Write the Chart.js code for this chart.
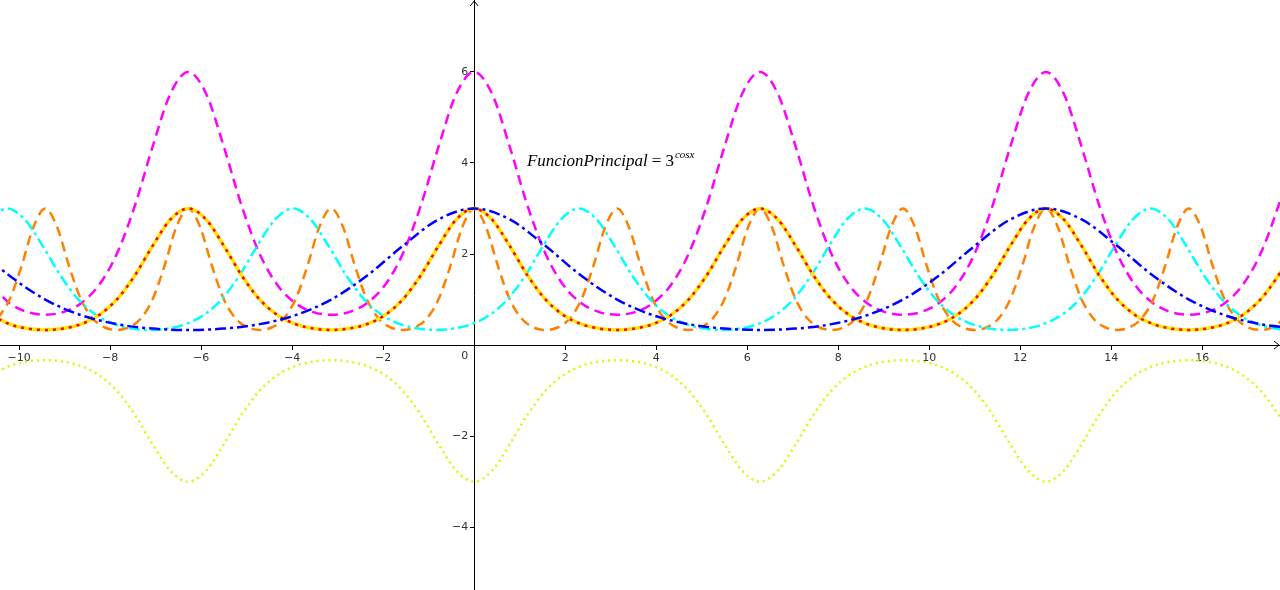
<!DOCTYPE html>
<html>
<head>
<meta charset="utf-8">
<script src="https://cdn.jsdelivr.net/npm/chart.js@4"></script>
<style>
html, body { margin: 0; padding: 0; background: #fff; overflow: hidden; }
</style>
</head>
<body>
<canvas id="chart" width="1280" height="590"></canvas>
<script>
// x samples for 3^cos x and its copies (step pi/8)
const xMain = [
  -10.603, -10.210, -9.817, -9.425, -9.032, -8.639, -8.247, -7.854, -7.461, -7.069, -6.676,
  -6.283, -5.890, -5.498, -5.105, -4.712, -4.320, -3.927, -3.534, -3.142, -2.749, -2.356, -1.963, -1.571, -1.178, -0.785, -0.393,
  0, 0.393, 0.785, 1.178, 1.571, 1.963, 2.356, 2.749, 3.142, 3.534, 3.927, 4.320, 4.712, 5.105, 5.498, 5.890,
  6.283, 6.676, 7.069, 7.461, 7.854, 8.247, 8.639, 9.032, 9.425, 9.817, 10.210, 10.603, 10.996, 11.388, 11.781, 12.174,
  12.566, 12.959, 13.352, 13.744, 14.137, 14.530, 14.923, 15.315, 15.708, 16.101, 16.493, 16.886, 17.279, 17.671, 18.064
];
// FuncionPrincipal = 3^cos x
const yMain = [
  0.657, 0.460, 0.362, 0.333, 0.362, 0.460, 0.657, 1, 1.523, 2.175, 2.759,
  3, 2.759, 2.175, 1.523, 1, 0.657, 0.460, 0.362, 0.333, 0.362, 0.460, 0.657, 1, 1.523, 2.175, 2.759,
  3, 2.759, 2.175, 1.523, 1, 0.657, 0.460, 0.362, 0.333, 0.362, 0.460, 0.657, 1, 1.523, 2.175, 2.759,
  3, 2.759, 2.175, 1.523, 1, 0.657, 0.460, 0.362, 0.333, 0.362, 0.460, 0.657, 1, 1.523, 2.175, 2.759,
  3, 2.759, 2.175, 1.523, 1, 0.657, 0.460, 0.362, 0.333, 0.362, 0.460, 0.657, 1, 1.523, 2.175
];
// magenta dashed (twice as tall)
const yDouble = [
  1.314, 0.920, 0.725, 0.667, 0.725, 0.920, 1.314, 2, 3.045, 4.349, 5.519,
  6, 5.519, 4.349, 3.045, 2, 1.314, 0.920, 0.725, 0.667, 0.725, 0.920, 1.314, 2, 3.045, 4.349, 5.519,
  6, 5.519, 4.349, 3.045, 2, 1.314, 0.920, 0.725, 0.667, 0.725, 0.920, 1.314, 2, 3.045, 4.349, 5.519,
  6, 5.519, 4.349, 3.045, 2, 1.314, 0.920, 0.725, 0.667, 0.725, 0.920, 1.314, 2, 3.045, 4.349, 5.519,
  6, 5.519, 4.349, 3.045, 2, 1.314, 0.920, 0.725, 0.667, 0.725, 0.920, 1.314, 2, 3.045, 4.349
];
// yellow-green dotted (mirrored below the axis)
const yNeg = [
  -0.657, -0.460, -0.362, -0.333, -0.362, -0.460, -0.657, -1, -1.523, -2.175, -2.759,
  -3, -2.759, -2.175, -1.523, -1, -0.657, -0.460, -0.362, -0.333, -0.362, -0.460, -0.657, -1, -1.523, -2.175, -2.759,
  -3, -2.759, -2.175, -1.523, -1, -0.657, -0.460, -0.362, -0.333, -0.362, -0.460, -0.657, -1, -1.523, -2.175, -2.759,
  -3, -2.759, -2.175, -1.523, -1, -0.657, -0.460, -0.362, -0.333, -0.362, -0.460, -0.657, -1, -1.523, -2.175, -2.759,
  -3, -2.759, -2.175, -1.523, -1, -0.657, -0.460, -0.362, -0.333, -0.362, -0.460, -0.657, -1, -1.523, -2.175
];

// blue dash-dot, wide period
const xHalf = [
  -10.996, -10.210, -9.425, -8.639, -7.854, -7.069, -6.283, -5.498, -4.712, -3.927, -3.142, -2.356, -1.571, -0.785,
  0, 0.785, 1.571, 2.356, 3.142, 3.927, 4.712, 5.498, 6.283, 7.069, 7.854, 8.639, 9.425, 10.210, 10.996, 11.781,
  12.566, 13.352, 14.137, 14.923, 15.708, 16.493, 17.279, 18.064
];
const yHalf = [
  2.175, 1.523, 1, 0.657, 0.460, 0.362, 0.333, 0.362, 0.460, 0.657, 1, 1.523, 2.175, 2.759,
  3, 2.759, 2.175, 1.523, 1, 0.657, 0.460, 0.362, 0.333, 0.362, 0.460, 0.657, 1, 1.523, 2.175, 2.759,
  3, 2.759, 2.175, 1.523, 1, 0.657, 0.460, 0.362
];

// cyan dash-dot, shifted right
const xShift = [
  -10.659,
  -10.266, -9.874, -9.481, -9.088, -8.696, -8.303, -7.910, -7.517, -7.125, -6.732, -6.339, -5.947, -5.554, -5.161, -4.769, -4.376,
  -3.983, -3.590, -3.198, -2.805, -2.412, -2.020, -1.627, -1.234, -0.842, -0.449, -0.056, 0.337, 0.729, 1.122, 1.515, 1.907,
  2.300, 2.693, 3.085, 3.478, 3.871, 4.263, 4.656, 5.049, 5.442, 5.834, 6.227, 6.620, 7.012, 7.405, 7.798, 8.190,
  8.583, 8.976, 9.369, 9.761, 10.154, 10.547, 10.939, 11.332, 11.725, 12.117, 12.510, 12.903, 13.296, 13.688, 14.081, 14.474,
  14.866, 15.259, 15.652, 16.044, 16.437, 16.830, 17.223, 17.615, 18.008
];
const yShift = [
  2.759,
  3, 2.759, 2.175, 1.523, 1, 0.657, 0.460, 0.362, 0.333, 0.362, 0.460, 0.657, 1, 1.523, 2.175, 2.759,
  3, 2.759, 2.175, 1.523, 1, 0.657, 0.460, 0.362, 0.333, 0.362, 0.460, 0.657, 1, 1.523, 2.175, 2.759,
  3, 2.759, 2.175, 1.523, 1, 0.657, 0.460, 0.362, 0.333, 0.362, 0.460, 0.657, 1, 1.523, 2.175, 2.759,
  3, 2.759, 2.175, 1.523, 1, 0.657, 0.460, 0.362, 0.333, 0.362, 0.460, 0.657, 1, 1.523, 2.175, 2.759,
  3, 2.759, 2.175, 1.523, 1, 0.657, 0.460, 0.362, 0.333
];

// orange dashed, short period (step pi/12)
const xFast = [
  -10.472, -10.210, -9.948, -9.687,
  -9.425, -9.163, -8.901, -8.639, -8.378, -8.116, -7.854, -7.592, -7.330, -7.069, -6.807, -6.545,
  -6.283, -6.021, -5.760, -5.498, -5.236, -4.974, -4.712, -4.451, -4.189, -3.927, -3.665, -3.403,
  -3.142, -2.880, -2.618, -2.356, -2.094, -1.833, -1.571, -1.309, -1.047, -0.785, -0.524, -0.262,
  0, 0.262, 0.524, 0.785, 1.047, 1.309, 1.571, 1.833, 2.094, 2.356, 2.618, 2.880,
  3.142, 3.403, 3.665, 3.927, 4.189, 4.451, 4.712, 4.974, 5.236, 5.498, 5.760, 6.021,
  6.283, 6.545, 6.807, 7.069, 7.330, 7.592, 7.854, 8.116, 8.378, 8.639, 8.901, 9.163,
  9.425, 9.687, 9.948, 10.210, 10.472, 10.734, 10.996, 11.257, 11.519, 11.781, 12.043, 12.305,
  12.566, 12.828, 13.090, 13.352, 13.614, 13.875, 14.137, 14.399, 14.661, 14.923, 15.184, 15.446,
  15.708, 15.970, 16.232, 16.493, 16.755, 17.017, 17.279, 17.541, 17.802
];
const yFast = [
  0.577, 1, 1.732, 2.589,
  3, 2.589, 1.732, 1, 0.577, 0.386, 0.333, 0.386, 0.577, 1, 1.732, 2.589,
  3, 2.589, 1.732, 1, 0.577, 0.386, 0.333, 0.386, 0.577, 1, 1.732, 2.589,
  3, 2.589, 1.732, 1, 0.577, 0.386, 0.333, 0.386, 0.577, 1, 1.732, 2.589,
  3, 2.589, 1.732, 1, 0.577, 0.386, 0.333, 0.386, 0.577, 1, 1.732, 2.589,
  3, 2.589, 1.732, 1, 0.577, 0.386, 0.333, 0.386, 0.577, 1, 1.732, 2.589,
  3, 2.589, 1.732, 1, 0.577, 0.386, 0.333, 0.386, 0.577, 1, 1.732, 2.589,
  3, 2.589, 1.732, 1, 0.577, 0.386, 0.333, 0.386, 0.577, 1, 1.732, 2.589,
  3, 2.589, 1.732, 1, 0.577, 0.386, 0.333, 0.386, 0.577, 1, 1.732, 2.589,
  3, 2.589, 1.732, 1, 0.577, 0.386, 0.333, 0.386, 0.577
];

const xTickVals = [-10, -8, -6, -4, -2, 0, 2, 4, 6, 8, 10, 12, 14, 16];
const yTickVals = [-4, -2, 2, 4, 6];

const xRange = [-10.42, 17.71];
const yRange = [-5.38, 7.58];

const labelPos = { x: 1.16, y: 3.93 };

function pairs(xs, ys) {
  return xs.map((x, i) => ({ x: x, y: ys[i] }));
}

function fmt(v) {
  return v < 0 ? '\u2212' + Math.abs(v) : String(v);
}

// arrows, y labels, origin label and the formula text
const decor = {
  id: 'decor',
  afterDraw(chart) {
    const ctx = chart.ctx;
    const xs = chart.scales.x, ys = chart.scales.y;
    const ox = xs.getPixelForValue(0), oy = ys.getPixelForValue(0);
    const area = chart.chartArea;
    ctx.save();
    ctx.strokeStyle = '#000';
    ctx.lineWidth = 1;
    ctx.beginPath();
    ctx.moveTo(ox - 4, area.top + 6);
    ctx.lineTo(ox, area.top + 1);
    ctx.lineTo(ox + 4, area.top + 6);
    ctx.moveTo(area.right - 6, oy - 4);
    ctx.lineTo(area.right - 1, oy);
    ctx.lineTo(area.right - 6, oy + 4);
    ctx.stroke();

    ctx.fillStyle = '#333';
    ctx.font = '11px "DejaVu Sans"';
    ctx.textAlign = 'right';
    ctx.textBaseline = 'middle';
    yTickVals.forEach(v => {
      ctx.fillText(fmt(v), ox - 6, ys.getPixelForValue(v));
    });
    ctx.textBaseline = 'top';
    ctx.fillText('0', ox - 6, oy + 6);

    let lx = xs.getPixelForValue(labelPos.x);
    const ly = ys.getPixelForValue(labelPos.y);
    ctx.fillStyle = '#000';
    ctx.textAlign = 'left';
    ctx.textBaseline = 'alphabetic';
    ctx.font = 'italic 17px "Liberation Serif"';
    ctx.fillText('FuncionPrincipal', lx, ly);
    lx += ctx.measureText('FuncionPrincipal').width + 4;
    ctx.font = '17px "Liberation Serif"';
    ctx.fillText('=', lx, ly);
    lx += ctx.measureText('=').width + 4;
    ctx.fillText('3', lx, ly);
    lx += ctx.measureText('3').width + 1;
    ctx.font = 'italic 11px "Liberation Serif"';
    ctx.fillText('cosx', lx, ly - 8);
    ctx.restore();
  }
};

function line(data, color, width, dash) {
  return {
    data: data,
    borderColor: color,
    borderWidth: width,
    borderDash: dash,
    pointRadius: 0,
    fill: false,
    cubicInterpolationMode: 'monotone'
  };
}

// first dataset is drawn on top
const datasets = [
  line(pairs(xHalf, yHalf), '#0000ff', 2.5, [11, 4, 3, 4]),
  line(pairs(xMain, yMain), '#ff0000', 2.5, [3, 5]),
  line(pairs(xMain, yMain), '#ffe600', 3.5, []),
  line(pairs(xShift, yShift), '#00ffff', 2.5, [11, 4, 3, 4]),
  line(pairs(xFast, yFast), '#ff8000', 2.5, [10, 6]),
  line(pairs(xMain, yDouble), '#ff00ff', 2.5, [10, 6]),
  line(pairs(xMain, yNeg), '#ccff00', 2.5, [2, 4])
];

new Chart(document.getElementById('chart').getContext('2d'), {
  type: 'line',
  data: { datasets: datasets },
  plugins: [decor],
  options: {
    responsive: false,
    animation: false,
    layout: { padding: 0 },
    plugins: { legend: { display: false }, tooltip: { enabled: false } },
    scales: {
      x: {
        type: 'linear',
        min: xRange[0],
        max: xRange[1],
        position: { y: 0 },
        afterBuildTicks: s => { s.ticks = xTickVals.filter(v => v !== 0).map(v => ({ value: v })); },
        grid: { drawOnChartArea: false, drawTicks: true, tickLength: 4, color: '#000' },
        border: { display: true, color: '#000', width: 1 },
        ticks: {
          callback: v => fmt(v),
          color: '#333',
          font: { family: 'DejaVu Sans', size: 11 },
          padding: 2,
          maxRotation: 0,
          autoSkip: false
        }
      },
      y: {
        type: 'linear',
        min: yRange[0],
        max: yRange[1],
        position: { x: 0 },
        afterBuildTicks: s => { s.ticks = yTickVals.map(v => ({ value: v })); },
        grid: { drawOnChartArea: false, drawTicks: true, tickLength: 4, color: '#000' },
        border: { display: true, color: '#000', width: 1 },
        ticks: { display: false }
      }
    }
  }
});
</script>
</body>
</html>
